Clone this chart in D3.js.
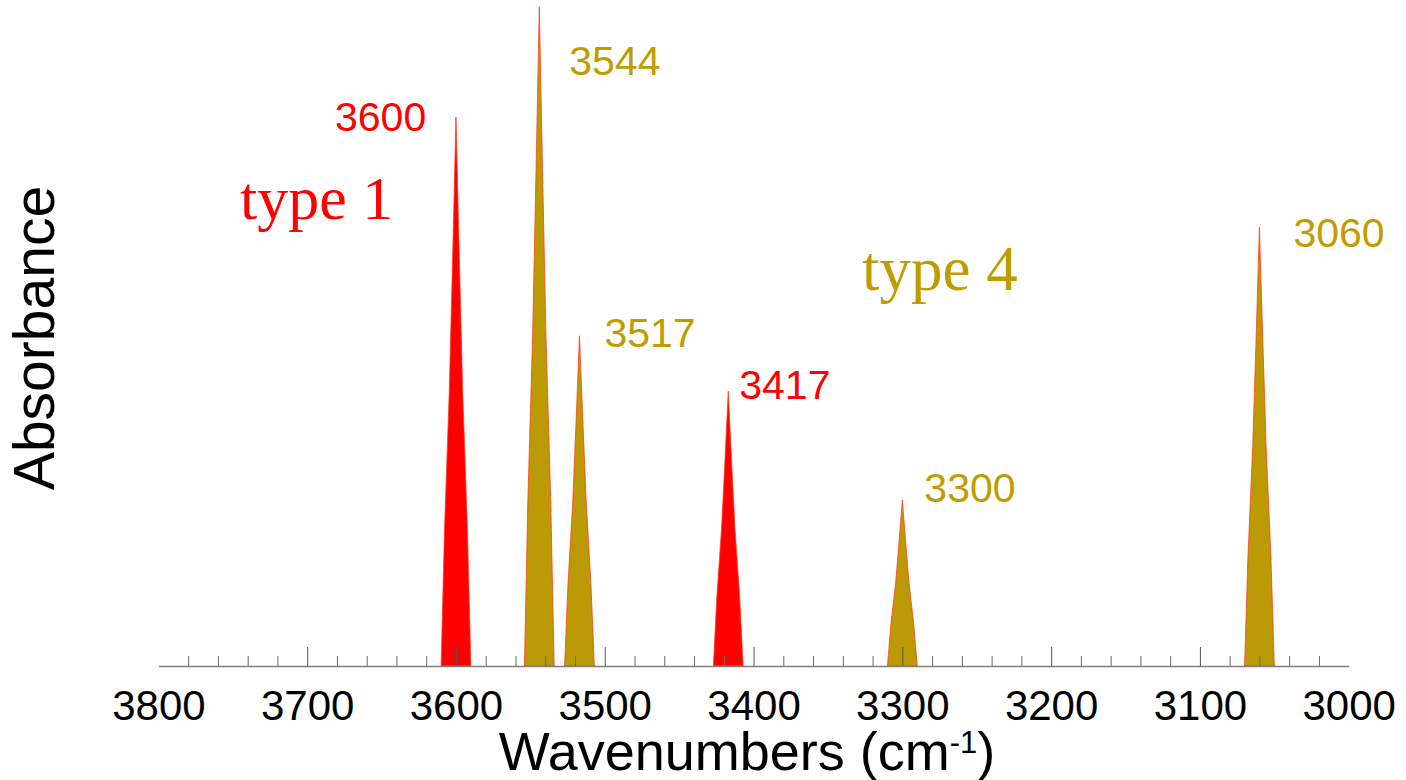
<!DOCTYPE html>
<html>
<head>
<meta charset="utf-8">
<script src="https://cdn.jsdelivr.net/npm/d3@7/dist/d3.min.js"></script>
<style>
  html, body { margin: 0; padding: 0; background: #ffffff; }
  svg { display: block; }
</style>
</head>
<body>
<svg id="chart" width="1406" height="780"></svg>
<script>
// IR absorption bands in the O–H / C–H stretching region
const bandCentres = [3600, 3544, 3517, 3417, 3300, 3060];
const bandTypes   = ["type 1", "type 4", "type 4", "type 1", "type 4", "type 4"];

// Band outlines: [wavenumber (cm-1), absorbance]
const band3600 = [[3610,0],[3607.7,0.208],[3604.5,0.417],[3602.2,0.625],[3600,0.833],[3597.8,0.625],[3595.5,0.417],[3592.3,0.208],[3590,0]];
const band3544 = [[3554,0],[3551.7,0.25],[3548.5,0.5],[3546.2,0.75],[3544,1.0],[3541.8,0.75],[3539.5,0.5],[3536.3,0.25],[3534,0]];
const band3517 = [[3527,0],[3524.7,0.125],[3521.5,0.25],[3519.2,0.376],[3517,0.501],[3514.8,0.376],[3512.5,0.25],[3509.3,0.125],[3507,0]];
const band3417 = [[3427,0],[3424.7,0.104],[3421.5,0.209],[3419.2,0.313],[3417,0.417],[3414.8,0.313],[3412.5,0.209],[3409.3,0.104],[3407,0]];
const band3300 = [[3310,0],[3307.7,0.063],[3304.5,0.126],[3302.2,0.189],[3300,0.252],[3297.8,0.189],[3295.5,0.126],[3292.3,0.063],[3290,0]];
const band3060 = [[3070,0],[3067.7,0.167],[3064.5,0.333],[3062.2,0.5],[3060,0.666],[3057.8,0.5],[3055.5,0.333],[3052.3,0.167],[3050,0]];
const bandOutlines = [band3600, band3544, band3517, band3417, band3300, band3060];

// Axis ticks
const majorTicks = [3800, 3700, 3600, 3500, 3400, 3300, 3200, 3100, 3000];
const minorTicks = [3780,3760,3740,3720,3680,3660,3640,3620,3580,3560,3540,3520,3480,3460,3440,3420,
                    3380,3360,3340,3320,3280,3260,3240,3220,3180,3160,3140,3120,3080,3060,3040,3020];

// Peak label placement relative to each apex (pixels)
const labelDx = [-121, 30, 25, 11, 22, 34];
const labelDy = [14, 68, 11, 8, 2, 20];

const typeColour = { "type 1": "#ff0000", "type 4": "#bc9a05" };
const typeText   = { "type 1": "#ff0000", "type 4": "#c09c00" };

const svg = d3.select("#chart");

const x = d3.scaleLinear().domain([3800, 3000]).range([158.4, 1348.7]);
const y = d3.scaleLinear().domain([0, 1]).range([666, 7]);

// Bands
const line = d3.line().x(d => x(d[0])).y(d => y(d[1]));
svg.append("g").selectAll("path")
  .data(bandOutlines)
  .join("path")
  .attr("d", d => line(d) + "Z")
  .attr("fill", (d, i) => typeColour[bandTypes[i]])
  .attr("stroke", "#ff3a1a")
  .attr("stroke-opacity", 0.75)
  .attr("stroke-width", 1)
  .attr("stroke-linejoin", "miter");

// Minor ticks (pointing up into the plot)
const minorAxis = d3.axisBottom(x).tickValues(minorTicks).tickSize(-10).tickSizeOuter(0).tickFormat("");
const gMinor = svg.append("g").attr("transform", "translate(0,666)").call(minorAxis);
gMinor.select(".domain").attr("stroke", "#808080").attr("stroke-width", 1.3);
gMinor.selectAll(".tick line").attr("stroke", "#6a6a6a");

// Major ticks with labels
const majorAxis = d3.axisBottom(x).tickValues(majorTicks).tickSize(-19).tickSizeOuter(0)
  .tickPadding(44).tickFormat(d3.format("d"));
const gMajor = svg.append("g").attr("transform", "translate(0,666)").call(majorAxis);
gMajor.select(".domain").remove();
gMajor.selectAll(".tick line")
  .attr("stroke", "#555555")
  .attr("opacity", d => (d === 3800 || d === 3000) ? 0 : 1);
gMajor.selectAll(".tick text")
  .attr("fill", "#000000")
  .attr("font-family", "'Liberation Sans', Arial, sans-serif")
  .attr("font-size", 42)
  .attr("dy", 0)
  .attr("y", 54);

// Peak labels
svg.append("g").selectAll("text")
  .data(bandCentres)
  .join("text")
  .attr("x", (d, i) => x(d) + labelDx[i])
  .attr("y", (d, i) => y(d3.max(bandOutlines[i], p => p[1])) + labelDy[i])
  .attr("text-anchor", "start")
  .attr("font-family", "'Liberation Sans', Arial, sans-serif")
  .attr("font-size", 41)
  .attr("fill", (d, i) => typeText[bandTypes[i]])
  .text(d => d);

// Type annotations
svg.append("text")
  .attr("x", 240).attr("y", 219)
  .attr("font-family", "'Liberation Serif', 'Times New Roman', serif")
  .attr("font-size", 62)
  .attr("fill", typeText["type 1"])
  .text("type 1");
svg.append("text")
  .attr("x", 862).attr("y", 290)
  .attr("font-family", "'Liberation Serif', 'Times New Roman', serif")
  .attr("font-size", 63)
  .attr("fill", typeText["type 4"])
  .text("type 4");

// Axis titles
const xTitle = svg.append("text")
  .attr("x", 747).attr("y", 770)
  .attr("text-anchor", "middle")
  .attr("font-family", "'Liberation Sans', Arial, sans-serif")
  .attr("font-size", 54)
  .attr("fill", "#000000");
xTitle.append("tspan").text("Wavenumbers (cm");
xTitle.append("tspan").attr("font-size", 31).attr("dy", -17).text("-1");
xTitle.append("tspan").attr("dy", 17).text(")");

svg.append("text")
  .attr("transform", "translate(54,338) rotate(-90)")
  .attr("text-anchor", "middle")
  .attr("font-family", "'Liberation Sans', Arial, sans-serif")
  .attr("font-size", 57)
  .attr("fill", "#000000")
  .text("Absorbance");
</script>
</body>
</html>
